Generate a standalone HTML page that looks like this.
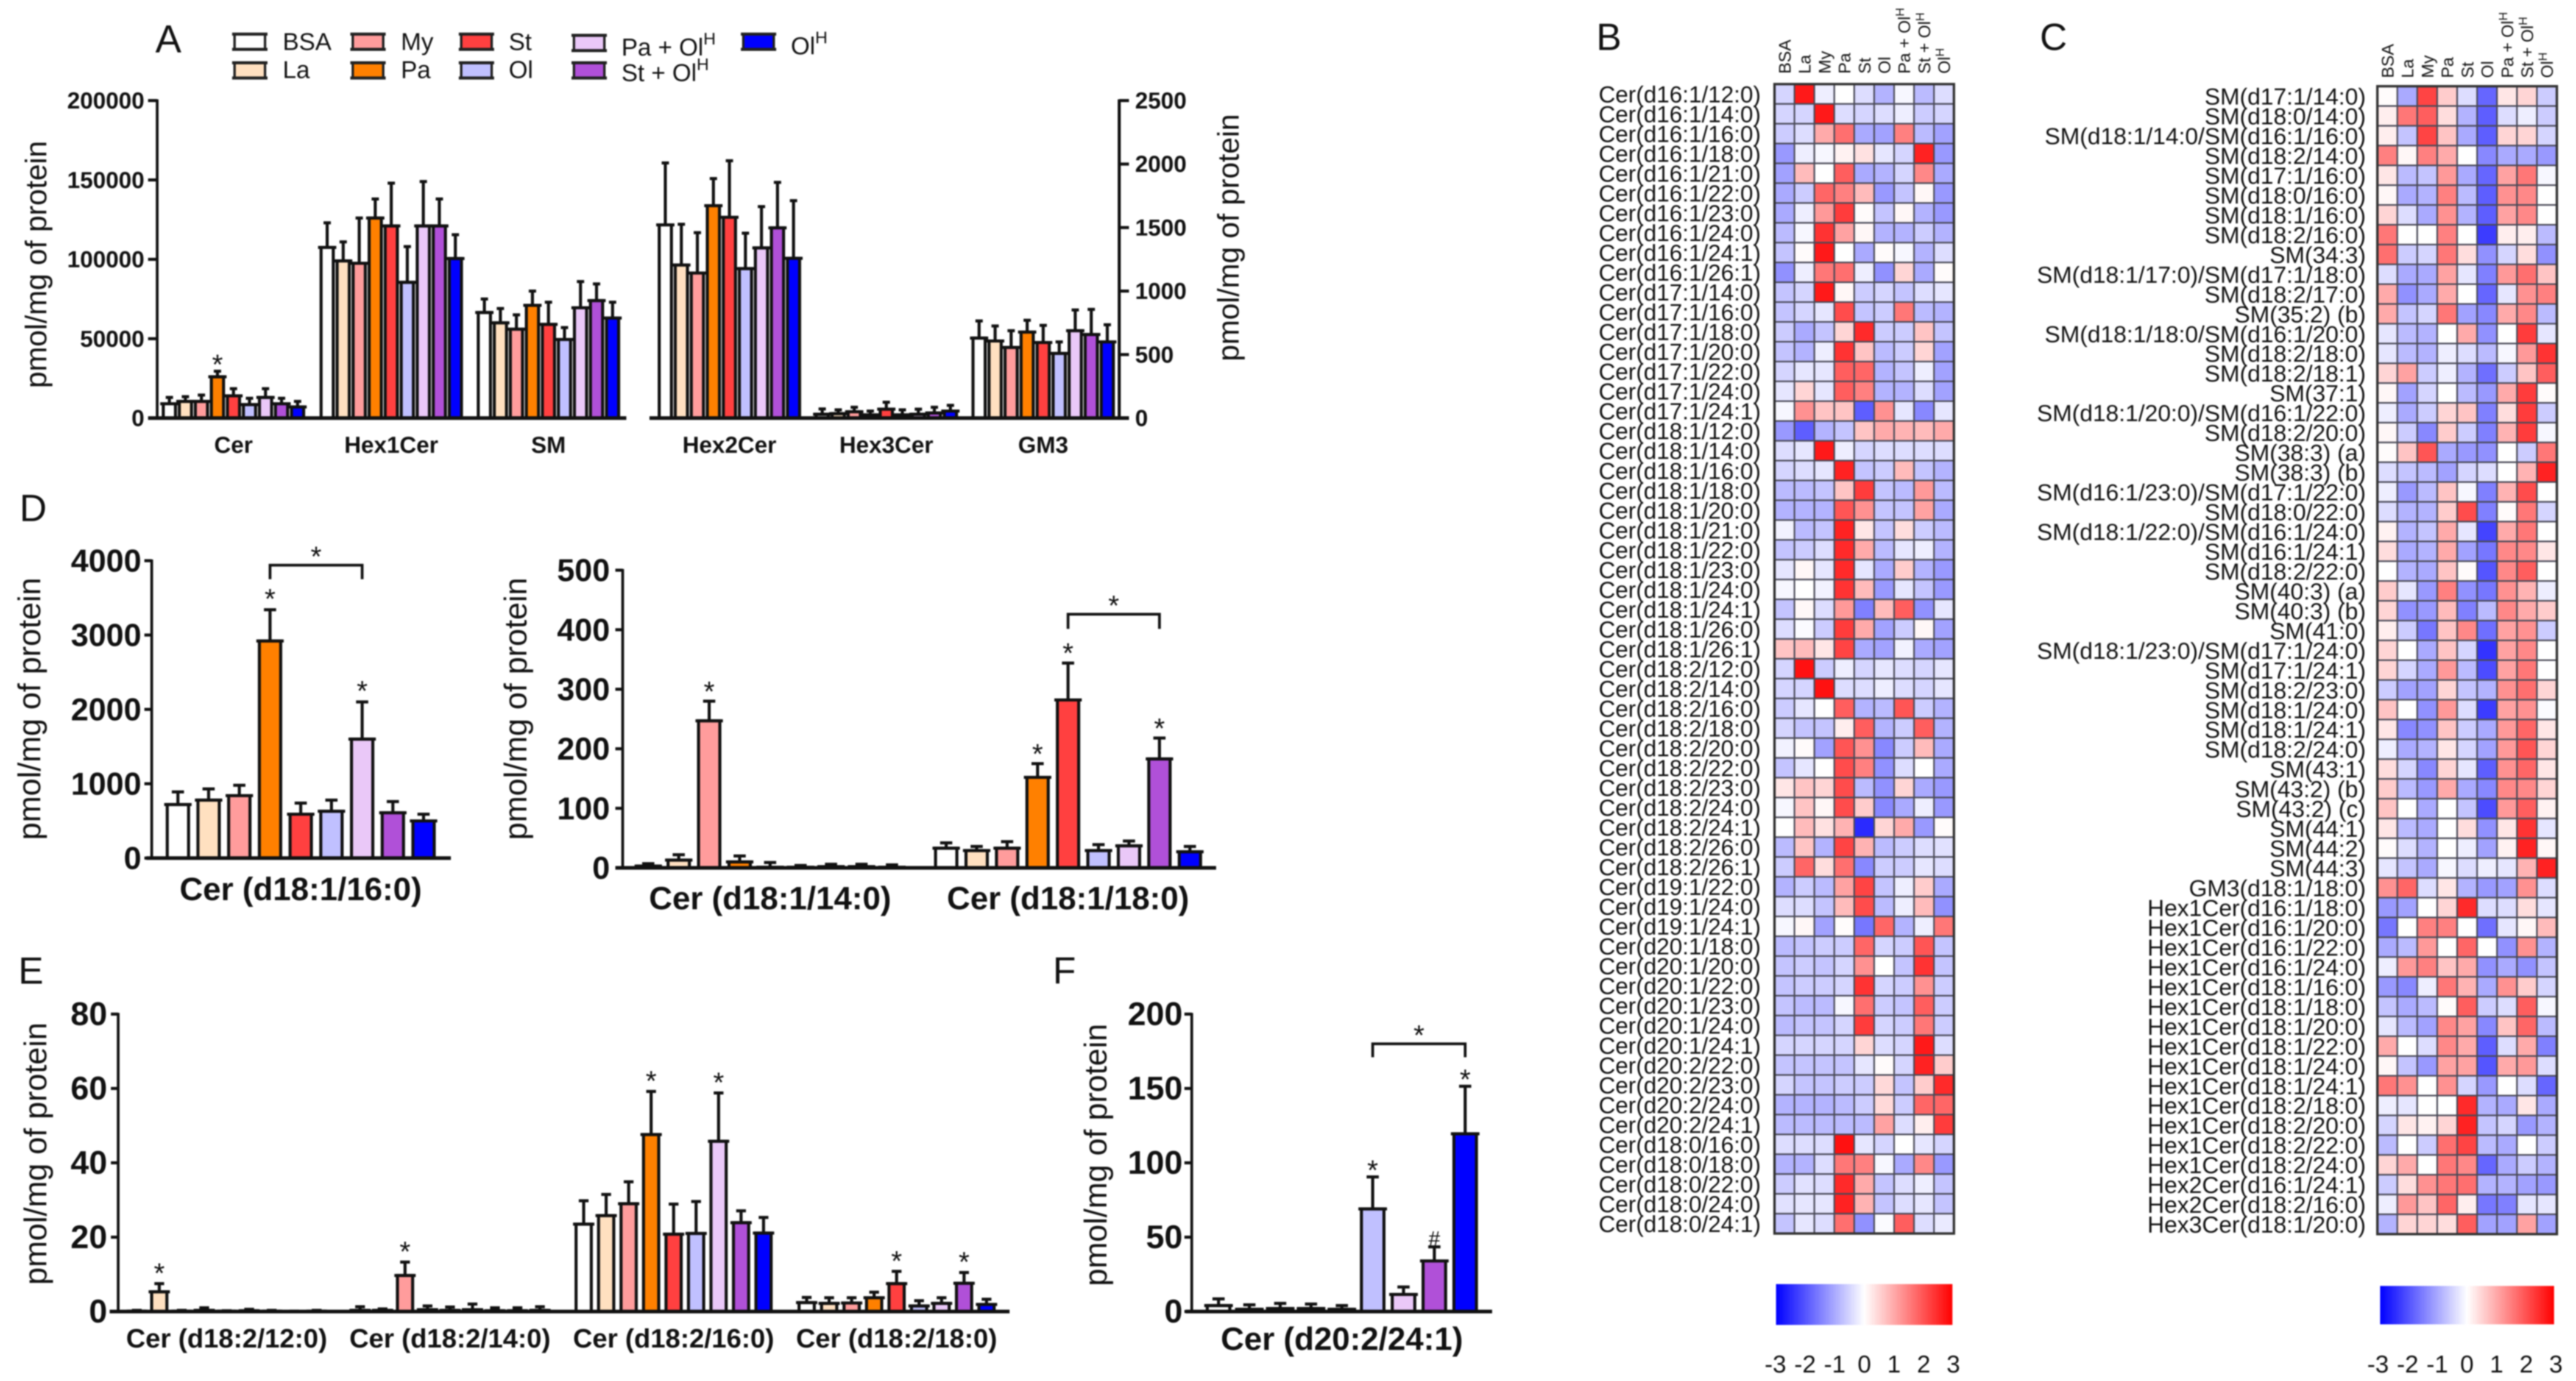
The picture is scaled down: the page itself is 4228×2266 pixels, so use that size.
<!DOCTYPE html>
<html lang="en">
<head>
<meta charset="utf-8">
<title>Sphingolipid profiles after fatty acid treatment</title>
<style>
html,body{margin:0;padding:0;background:#fff;}
#figure{display:block;width:4228px;height:2266px;filter:blur(1.1px);font-family:"Liberation Sans",Arial,sans-serif;fill:#111;}
</style>
</head>
<body>
<svg id="figure" xmlns="http://www.w3.org/2000/svg" width="4228" height="2266" viewBox="0 0 4228 2266">
<defs>
<linearGradient id="cbar" x1="0" x2="1" y1="0" y2="0"><stop offset="0" stop-color="#0000ff"/><stop offset="0.5" stop-color="#ffffff"/><stop offset="1" stop-color="#ff0000"/></linearGradient>
</defs>
<rect width="4228" height="2266" fill="#fff"/>

<text x="255" y="86" font-size="64">A</text>
<text x="2620" y="82" font-size="62">B</text>
<text x="3348" y="82" font-size="62">C</text>
<text x="32" y="855" font-size="62">D</text>
<text x="30" y="1614" font-size="62">E</text>
<text x="1728" y="1614" font-size="62">F</text>

<text transform="translate(76,434) rotate(-90)" text-anchor="middle" font-size="49">pmol/mg of protein</text>
<text transform="translate(2033,390) rotate(-90)" text-anchor="middle" font-size="49">pmol/mg of protein</text>
<text transform="translate(66,1163) rotate(-90)" text-anchor="middle" font-size="52">pmol/mg of protein</text>
<text transform="translate(864,1163) rotate(-90)" text-anchor="middle" font-size="52">pmol/mg of protein</text>
<text transform="translate(76,1893) rotate(-90)" text-anchor="middle" font-size="52">pmol/mg of protein</text>
<text transform="translate(1816,1895) rotate(-90)" text-anchor="middle" font-size="52">pmol/mg of protein</text>

<g id="legend" font-size="40">
<g><rect x="385" y="56" width="50" height="25" fill="#ffffff" stroke="#222" stroke-width="4"/><path d="M381 56H439M381 81H439" stroke="#222" stroke-width="5"/><text x="464" y="82">BSA</text></g>
<g><rect x="385" y="103" width="50" height="25" fill="#ffe0c0" stroke="#222" stroke-width="4"/><path d="M381 103H439M381 128H439" stroke="#222" stroke-width="5"/><text x="464" y="128">La</text></g>
<g><rect x="579" y="56" width="50" height="25" fill="#ff9c9c" stroke="#222" stroke-width="4"/><path d="M575 56H633M575 81H633" stroke="#222" stroke-width="5"/><text x="658" y="82">My</text></g>
<g><rect x="579" y="103" width="50" height="25" fill="#ff8000" stroke="#222" stroke-width="4"/><path d="M575 103H633M575 128H633" stroke="#222" stroke-width="5"/><text x="658" y="128">Pa</text></g>
<g><rect x="757" y="56" width="50" height="25" fill="#ff4040" stroke="#222" stroke-width="4"/><path d="M753 56H811M753 81H811" stroke="#222" stroke-width="5"/><text x="835" y="82">St</text></g>
<g><rect x="757" y="103" width="50" height="25" fill="#c0c0ff" stroke="#222" stroke-width="4"/><path d="M753 103H811M753 128H811" stroke="#222" stroke-width="5"/><text x="835" y="128">Ol</text></g>
<g><rect x="942" y="58" width="50" height="25" fill="#eac8f8" stroke="#222" stroke-width="4"/><path d="M938 58H996M938 83H996" stroke="#222" stroke-width="5"/><text x="1020" y="91">Pa + Ol<tspan font-size="28" dy="-18">H</tspan></text></g>
<g><rect x="942" y="103" width="50" height="25" fill="#b050d8" stroke="#222" stroke-width="4"/><path d="M938 103H996M938 128H996" stroke="#222" stroke-width="5"/><text x="1020" y="133">St + Ol<tspan font-size="28" dy="-18">H</tspan></text></g>
<g><rect x="1220" y="56" width="50" height="25" fill="#0000ff" stroke="#222" stroke-width="4"/><path d="M1216 56H1274M1216 81H1274" stroke="#222" stroke-width="5"/><text x="1298" y="89">Ol<tspan font-size="28" dy="-18">H</tspan></text></g>
</g>

<g id="charts"></g>
<g id="heatmaps"></g>
</svg>

<script>
// ---------- shared categories ----------
const treatments = ['BSA','La','My','Pa','St','Ol','Pa + OlH','St + OlH','OlH'];
const treatmentColors = ['#ffffff','#ffe0c0','#ff9c9c','#ff8000','#ff4040','#c0c0ff','#eac8f8','#b050d8','#0000ff'];

// ---------- panel A ----------
const ticksALeft = [0,50000,100000,150000,200000];
const ticksARight = [0,500,1000,1500,2000,2500];
const cerMeans = [9000,10500,10500,26000,14000,8500,13000,9000,7000];
const cerUppers = [13000,13500,14500,29500,18500,12500,18500,12500,10500];
const hex1CerMeans = [107500,99000,97500,126000,121000,85500,121000,121000,100500];
const hex1CerUppers = [123000,111000,126000,138000,148000,108000,149000,138000,115500];
const smMeans = [66500,60000,56000,71000,59000,49500,69500,74000,63000];
const smUppers = [75000,69000,65000,80000,73000,57000,86000,84500,73000];
const hex2CerMeans = [1521,1205,1142,1672,1581,1177,1340,1498,1258];
const hex2CerUppers = [2009,1526,1460,1886,2026,1456,1665,1856,1712];
const hex3CerMeans = [30,35,50,25,70,25,30,40,55];
const hex3CerUppers = [72,65,85,55,125,65,70,85,100];
const gm3Means = [630,607,556,677,595,509,688,658,600];
const gm3Uppers = [765,725,688,770,730,600,851,856,735];
const cerStars = [3];

// ---------- panel D ----------
const ticksDLeft = [0,1000,2000,3000,4000];
const ticksDRight = [0,100,200,300,400,500];
const d16Means = [720,780,840,2920,590,630,1600,610,500];
const d16Uppers = [890,930,980,3340,740,780,2100,760,590];
const d16Stars = [3,6];
const d16BracketValue = 3940;
const d14Means = [3,13,247,10,1,1,2,2,1];
const d14Uppers = [7,22,280,20,9,4,6,6,5];
const d14Stars = [2];
const d18Means = [33,29,33,152,282,29,37,183,27];
const d18Uppers = [42,36,44,175,344,39,45,218,36];
const d18Stars = [3,4,7];
const d18BracketValue = 426;

// ---------- panel E ----------
const ticksE = [0,20,40,60,80];
const e12Means = [0.1,5.3,0.1,0.3,0.1,0.2,0.1,0.05,0.1];
const e12Uppers = [0.3,7.5,0.3,1.0,0.2,0.6,0.3,0.1,0.3];
const e12Stars = [1];
const e14Means = [0.3,0.3,9.7,0.5,0.3,0.5,0.2,0.2,0.3];
const e14Uppers = [1.3,0.7,13.3,1.5,1.2,2.0,1.0,1.0,1.3];
const e14Stars = [2];
const e16Means = [23.5,25.8,29,47.6,20.8,21,45.8,23.9,21.1];
const e16Uppers = [29.8,31.5,34.9,59.2,28.9,29.6,58.8,27.1,25.3];
const e16Stars = [3,6];
const e18Means = [2.4,2.2,2.3,3.7,7.5,1.5,2.2,7.6,1.9];
const e18Uppers = [3.8,3.7,3.7,5.2,10.8,2.9,3.7,10.5,3.3];
const e18Stars = [4,7];

// ---------- panel F ----------
const ticksF = [0,50,100,150,200];
const fMeans = [4,1.5,2,2,1.5,69,11.5,34,119.5];
const fUppers = [8.5,4.5,5.5,5,4,90.5,16.5,43.5,151.5];
const fStars = [5,8];
const fHashes = [7];
const fBracketValue = 180;

// ---------- panel B heatmap ----------
const heatRowsB = ['Cer(d16:1/12:0)','Cer(d16:1/14:0)','Cer(d16:1/16:0)','Cer(d16:1/18:0)','Cer(d16:1/21:0)','Cer(d16:1/22:0)','Cer(d16:1/23:0)','Cer(d16:1/24:0)','Cer(d16:1/24:1)','Cer(d16:1/26:1)','Cer(d17:1/14:0)','Cer(d17:1/16:0)','Cer(d17:1/18:0)','Cer(d17:1/20:0)','Cer(d17:1/22:0)','Cer(d17:1/24:0)','Cer(d17:1/24:1)','Cer(d18:1/12:0)','Cer(d18:1/14:0)','Cer(d18:1/16:0)','Cer(d18:1/18:0)','Cer(d18:1/20:0)','Cer(d18:1/21:0)','Cer(d18:1/22:0)','Cer(d18:1/23:0)','Cer(d18:1/24:0)','Cer(d18:1/24:1)','Cer(d18:1/26:0)','Cer(d18:1/26:1)','Cer(d18:2/12:0)','Cer(d18:2/14:0)','Cer(d18:2/16:0)','Cer(d18:2/18:0)','Cer(d18:2/20:0)','Cer(d18:2/22:0)','Cer(d18:2/23:0)','Cer(d18:2/24:0)','Cer(d18:2/24:1)','Cer(d18:2/26:0)','Cer(d18:2/26:1)','Cer(d19:1/22:0)','Cer(d19:1/24:0)','Cer(d19:1/24:1)','Cer(d20:1/18:0)','Cer(d20:1/20:0)','Cer(d20:1/22:0)','Cer(d20:1/23:0)','Cer(d20:1/24:0)','Cer(d20:1/24:1)','Cer(d20:2/22:0)','Cer(d20:2/23:0)','Cer(d20:2/24:0)','Cer(d20:2/24:1)','Cer(d18:0/16:0)','Cer(d18:0/18:0)','Cer(d18:0/22:0)','Cer(d18:0/24:0)','Cer(d18:0/24:1)'];
const heatValuesB = [
[-0.5,2.7,-0.2,0,-0.4,-0.9,-0.1,-0.8,-0.4],
[-0.5,-0.5,2.7,-0.4,-0.5,-0.4,-0.2,-0.6,-0.5],
[-0.6,-0.4,1.0,1.7,-1.0,-1.1,1.5,-0.8,-1.1],
[-1.2,-0.2,-0.1,0.15,0.35,-0.3,-0.5,2.6,-1.2],
[-1.1,0.8,0,1.9,-1.0,-0.9,-0.5,1.4,-1.0],
[-1.0,-0.6,1.8,1.5,0.8,-1.2,-0.7,0.1,-1.2],
[-1.0,-0.2,1.2,2.3,0.05,-0.7,0.1,-0.9,-1.2],
[-0.8,-0.1,2.4,1.1,0.1,-0.9,-0.9,-0.6,-0.9],
[-0.7,0.05,2.7,0,-1.0,0.05,-0.1,-0.9,-0.4],
[-1.3,-0.2,1.6,1.7,-0.2,-1.3,0.5,-1.0,0.05],
[-0.7,-0.5,2.7,0.1,-0.6,-0.5,-0.7,-0.4,-0.3],
[-0.7,-0.5,-0.3,2.1,-0.7,-0.6,1.6,-0.8,-0.9],
[-0.6,-1.0,-0.7,0.5,2.5,-0.6,-0.6,0.7,-0.7],
[-0.7,-0.9,-0.2,2.4,0.7,-0.8,-0.6,0.5,-1.1],
[-0.5,-0.3,-0.3,1.9,1.8,-0.9,-0.7,-0.2,-1.1],
[-0.3,0.5,-0.3,1.9,1.5,-0.9,-0.9,-0.4,-1.1],
[-0.1,1.3,0.7,0.7,-1.9,1.3,-0.3,-1.4,-0.3],
[-1.2,-1.9,-0.9,-0.7,0.7,1.0,0.9,0.8,1.0],
[-0.4,-0.3,2.7,-0.2,-0.5,-0.4,-0.4,-0.4,-0.4],
[-0.5,-0.4,-0.3,2.6,-0.7,-0.6,0.8,-0.7,-0.9],
[-0.8,-0.8,-0.7,0.7,2.3,-0.7,-0.8,1.2,-0.8],
[-0.9,-0.9,-0.9,2.0,1.3,-0.7,-0.7,1.1,-1.0],
[-0.15,-0.8,-0.7,2.6,0.3,-0.7,0.4,-0.6,-0.8],
[-0.7,-0.6,-0.4,2.5,1.0,-0.8,-0.3,-0.2,-0.9],
[-0.3,0.1,-0.3,2.5,-0.3,-1.0,0.6,-0.9,-1.2],
[-0.1,0,-0.15,2.4,0.8,-1.2,-0.3,-0.7,-1.2],
[-0.7,0.08,-0.4,1.2,-1.5,0.8,1.9,-1.3,-0.3],
[-0.4,-0.05,-0.6,2.3,1.0,-1.1,-0.6,0.1,-1.1],
[0.7,0.8,0.3,2.2,-1.0,-1.1,-0.15,-1.0,-1.1],
[-0.5,2.8,-0.6,-0.2,-0.5,-0.3,-0.4,-0.5,-0.3],
[-0.5,-0.5,2.8,-0.4,-0.4,-0.2,-0.4,-0.5,-0.3],
[-0.6,-0.3,0,1.9,-0.9,-0.8,2.0,-0.6,-0.9],
[-0.5,-0.7,-0.7,0.2,1.9,-0.9,-0.6,1.9,-0.9],
[-0.15,0.05,-1.1,2.0,1.3,-1.4,-0.6,0.8,-1.0],
[-0.7,-0.3,0,2.1,1.5,-1.3,-0.4,0,-1.0],
[0.3,0.7,0.5,2.1,-0.8,-1.3,0.5,-1.0,-1.2],
[-0.1,0.7,0.1,2.1,0.6,-1.4,-1.0,-0.2,-1.2],
[0,0.8,0.35,0.9,-2.5,0.5,1.0,-1.2,0.05],
[-0.8,0.7,-0.9,2.2,0.9,-0.8,-0.6,-0.4,-0.35],
[-0.6,1.8,0.4,1.7,-1.4,-0.6,-0.6,-0.3,-0.4],
[-0.9,-0.6,-0.8,1.1,2.2,-0.7,-0.2,0.6,-1.0],
[-0.4,-0.4,-0.7,0.8,2.1,-0.8,-0.2,0.8,-1.3],
[-0.1,0.1,-1.1,0.03,-1.6,1.8,-0.9,-0.2,1.6],
[-0.8,-0.7,-0.6,-0.6,1.8,-0.5,-0.6,2.0,-0.7],
[-0.7,-0.6,-0.7,-0.5,1.3,0,-0.7,2.4,-0.7],
[-0.7,-0.6,-0.6,-0.5,2.4,-0.5,-0.6,1.3,-0.6],
[-0.7,-0.8,-0.8,-0.1,1.7,-0.6,-0.7,1.9,-0.6],
[-0.8,-0.7,-0.7,-0.5,2.3,-0.5,-0.6,1.6,-0.6],
[-0.5,-0.5,-0.5,-0.5,0.5,-0.4,-0.5,2.7,-0.4],
[-0.7,-0.7,-0.7,-0.7,-0.3,0.05,-0.5,2.6,0.6],
[-0.5,-0.7,-0.7,-0.6,-0.6,0.45,-0.7,0.6,2.5],
[-0.9,-0.9,-0.9,-0.8,-0.6,0.45,-0.6,1.8,1.8],
[-0.8,-0.8,-0.8,-0.8,-0.8,1.1,-0.4,0.2,2.3],
[-0.4,-0.4,-0.4,2.8,-0.3,-0.5,0,-0.3,-0.5],
[-0.9,-0.9,-0.4,1.6,1.5,-0.1,-1.0,1.4,-1.2],
[-0.6,-0.35,-0.4,2.5,1.0,-0.7,-0.4,-0.2,-0.7],
[-0.35,-0.3,-0.3,2.6,0.9,-0.7,-0.4,-0.3,-0.7],
[-0.7,-0.3,-0.4,1.7,-1.3,-0.05,1.9,-0.4,-0.25]
];

// ---------- panel C heatmap ----------
const heatRowsC = ['SM(d17:1/14:0)','SM(d18:0/14:0)','SM(d18:1/14:0/SM(d16:1/16:0)','SM(d18:2/14:0)','SM(d17:1/16:0)','SM(d18:0/16:0)','SM(d18:1/16:0)','SM(d18:2/16:0)','SM(34:3)','SM(d18:1/17:0)/SM(d17:1/18:0)','SM(d18:2/17:0)','SM(35:2) (b)','SM(d18:1/18:0/SM(d16:1/20:0)','SM(d18:2/18:0)','SM(d18:2/18:1)','SM(37:1)','SM(d18:1/20:0)/SM(d16:1/22:0)','SM(d18:2/20:0)','SM(38:3) (a)','SM(38:3) (b)','SM(d16:1/23:0)/SM(d17:1/22:0)','SM(d18:0/22:0)','SM(d18:1/22:0)/SM(d16:1/24:0)','SM(d16:1/24:1)','SM(d18:2/22:0)','SM(40:3) (a)','SM(40:3) (b)','SM(41:0)','SM(d18:1/23:0)/SM(d17:1/24:0)','SM(d17:1/24:1)','SM(d18:2/23:0)','SM(d18:1/24:0)','SM(d18:1/24:1)','SM(d18:2/24:0)','SM(43:1)','SM(43:2) (b)','SM(43:2) (c)','SM(44:1)','SM(44:2)','SM(44:3)','GM3(d18:1/18:0)','Hex1Cer(d16:1/18:0)','Hex1Cer(d16:1/20:0)','Hex1Cer(d16:1/22:0)','Hex1Cer(d16:1/24:0)','Hex1Cer(d18:1/16:0)','Hex1Cer(d18:1/18:0)','Hex1Cer(d18:1/20:0)','Hex1Cer(d18:1/22:0)','Hex1Cer(d18:1/24:0)','Hex1Cer(d18:1/24:1)','Hex1Cer(d18:2/18:0)','Hex1Cer(d18:2/20:0)','Hex1Cer(d18:2/22:0)','Hex1Cer(d18:2/24:0)','Hex2Cer(d16:1/24:1)','Hex2Cer(d18:2/16:0)','Hex3Cer(d18:1/20:0)'];
const heatValuesC = [
[0.03,-1.0,2.2,0.6,-0.4,-1.8,0.3,0.5,-0.6],
[0.2,1.6,1.9,0.4,-0.9,-1.9,-0.4,-0.2,-0.6],
[0.2,-0.7,2.2,0.7,-1.0,-1.9,0.5,0.5,-0.5],
[1.5,0.1,1.5,1.0,0,-1.4,-1.0,-1.0,-1.2],
[0.3,-0.8,-0.7,1.2,-1.0,-1.8,1.1,1.6,-0.1],
[0.1,-1.0,-0.9,1.5,-0.8,-1.9,1.3,1.4,0],
[0.5,-0.4,-1.0,1.3,-0.9,-1.9,1.1,1.4,0],
[1.6,0,0,1.5,0,-2.3,0.2,0.2,-0.8],
[1.7,-0.6,-0.5,1.6,0.4,-1.3,-0.5,0.4,-1.3],
[-0.4,-1.0,-1.0,1.1,-0.3,-1.5,1.2,1.7,0.7],
[1.0,-1.3,-1.0,1.0,0,-1.8,-0.3,1.3,1.5],
[1.0,-0.7,-0.5,1.6,-1.1,-1.4,1.0,1.4,-0.8],
[-0.3,-0.8,-0.9,0,1.0,-1.3,0,2.3,-0.3],
[-0.3,-0.8,-0.9,-0.2,-0.4,-0.8,-0.1,1.2,2.4],
[0.5,1.1,-0.6,-0.2,-0.9,-1.7,-0.6,0.7,1.9],
[0.1,-1.1,-0.5,0,-0.8,-1.2,1.0,2.3,0.05],
[-0.2,-1.0,-0.6,0.5,0.7,-1.5,0.4,2.3,-0.6],
[0.1,-0.6,-1.4,0.6,-0.6,-1.5,0.9,2.3,-0.1],
[0.03,0.7,2.0,-1.0,-1.2,-1.3,0,-0.6,1.6],
[-0.4,-0.7,-0.8,-1.1,-0.5,-0.4,0,0.9,2.6],
[-0.2,-1.2,-0.8,0.7,-0.1,-1.5,0.9,2.1,0],
[-0.4,-0.9,-0.9,0.6,2.1,-1.5,0.05,1.6,-0.5],
[0.15,-0.9,-0.7,1.0,-0.3,-2.2,1.0,1.6,0],
[0.4,-1.0,-0.9,1.0,-1.1,-1.6,1.4,1.4,0.3],
[0,-0.9,-1.0,0.7,0.05,-2.0,1.4,1.9,0],
[0.6,-0.3,-1.2,1.5,-1.3,-1.6,1.3,0.9,-0.2],
[0.5,-1.3,-1.2,0.8,-1.5,-0.8,1.4,1.0,0.6],
[0.2,-0.6,-1.6,0.7,1.4,-1.7,1.1,1.3,-0.6],
[0.5,0,-1.0,0.7,-0.5,-2.4,1.1,1.4,0],
[0.5,-0.5,-1.0,1.2,-0.8,-2.1,1.1,1.6,0],
[-0.6,-1.1,-1.1,0.5,-0.7,-0.9,1.3,1.7,0.5],
[0.7,0,-1.3,1.2,-0.4,-2.3,1.1,1.3,-0.05],
[0.3,-1.4,-1.3,0.7,-0.6,-1.0,1.2,1.8,0.3],
[-0.2,-1.0,-0.9,0.3,-0.5,-1.1,1.2,2.0,0.5],
[0.4,-0.5,-1.4,0.5,-0.3,-1.9,1.3,1.8,0.3],
[0.6,-0.8,-1.2,1.0,-1.0,-1.4,1.4,1.4,0.5],
[0.7,0,-1.0,0,-0.7,-2.1,1.2,1.9,0.15],
[0.3,-0.8,-1.0,0,0.4,-1.3,0.3,2.4,-0.3],
[0.05,-0.4,-0.9,0,-0.2,-1.1,0.15,2.6,0.1],
[-0.3,-0.7,-1.0,-0.1,-0.4,-0.2,-0.3,0.9,2.6],
[1.3,1.8,-0.4,0.3,-0.9,-1.2,-1.1,1.3,-0.4],
[-1.2,-1.1,0,0.5,2.5,-0.4,-0.4,0.4,-0.3],
[-1.6,0,1.5,1.5,0,-1.7,-0.3,0.1,0.8],
[-1.0,-0.8,1.2,0,1.8,0,-1.3,1.3,-0.9],
[-0.2,1.2,1.5,0.7,1.0,-1.3,-1.0,-1.3,-0.7],
[-1.2,-1.4,-0.2,1.6,0.9,-1.0,1.3,0.6,-0.5],
[-0.7,-1.0,-0.8,0.05,1.9,-0.6,-0.4,1.9,-0.1],
[-0.3,-0.8,-1.1,1.4,1.1,-1.4,0.7,1.8,-0.8],
[1.0,0,-0.4,1.4,1.0,-1.9,-0.4,1.0,-1.5],
[0.1,-0.7,-1.2,1.1,1.1,-2.0,1.0,1.2,-0.4],
[1.6,1.3,0,1.3,-0.5,-1.2,0,-0.4,-1.8],
[-0.2,-0.3,0,0,2.5,-0.9,-1.0,0.3,-1.0],
[-0.5,0.3,0.15,0.5,2.6,-0.7,-0.5,-1.2,-0.9],
[-0.8,0,-0.6,1.7,2.2,-0.8,-1.0,0,-0.6],
[0.5,1.0,0,1.6,1.4,-1.8,-1.0,-0.6,-0.9],
[-0.6,0.4,1.3,1.6,1.7,-0.9,-0.9,-1.1,-1.2],
[-0.2,1.2,0.7,1.8,0.2,-1.6,-1.5,-0.3,-0.3],
[-0.9,0.5,0.5,0.4,1.9,-1.1,-1.1,1.1,-1.1]
];
const colorbarTicks = [-3,-2,-1,0,1,2,3];

// ---------- helpers ----------
const NS = 'http://www.w3.org/2000/svg';
const charts = document.getElementById('charts');
const heatmaps = document.getElementById('heatmaps');

function mk(tag, attrs, parent, text) {
  const node = document.createElementNS(NS, tag);
  for (const key in attrs) node.setAttribute(key, attrs[key]);
  if (text !== undefined) node.textContent = text;
  parent.appendChild(node);
  return node;
}
function linear(d0, d1, r0, r1) {
  return function (v) { return r0 + (v - d0) * (r1 - r0) / (d1 - d0); };
}
function slug(s) { return s.toLowerCase().replace(/[^a-z0-9]+/g, '-').replace(/-$/, ''); }

function drawYAxis(parent, name, ticks, y, x, dir, tickLen, gap, fontSize, baseShift) {
  const g = mk('g', {}, parent);
  
  
  const line = mk('line', {x1:x, x2:x, y1:y(ticks[ticks.length-1])-2, y2:y(ticks[0])+2, stroke:'#111', 'stroke-width':dir < 0 ? 4.5 : 5}, g);
  
  
  ticks.forEach(function (t) {
    const tick = mk('line', {x1:x, x2:x + dir*tickLen, y1:y(t), y2:y(t), stroke:'#111', 'stroke-width':5}, g);
    
    
    const label = mk('text', {x:x + dir*(tickLen+gap), y:y(t)+baseShift, 'font-size':fontSize, 'font-weight':'bold', 'text-anchor':dir < 0 ? 'end' : 'start'}, g, String(t));
    
    
  });
}

function drawXAxis(parent, name, x1, x2, y) {
  const line = mk('line', {x1:x1, x2:x2, y1:y, y2:y, stroke:'#111', 'stroke-width':6}, parent);
  
  
}

function drawMarker(parent, name, cx, cy, glyph, size) {
  const t = mk('text', {x:cx, y:cy + size*0.56, 'font-size':size, 'text-anchor':'middle'}, parent, glyph);
  
  
}

function drawBarGroup(parent, c) {
  const g = mk('g', {}, parent);
  
  
  const base = c.y(0);
  const sw = 5;
  c.values.forEach(function (v, i) {
    const cx = c.x0 + i*c.step;
    const top = c.y(v);
    const up = c.y(c.uppers[i]);
    const bar = mk('rect', {x:cx - c.barW/2, y:top, width:c.barW, height:Math.max(0, base - top), fill:treatmentColors[i], stroke:'#111', 'stroke-width':sw}, g);
    
    
    const whisker = mk('path', {d:'M'+cx+' '+top+'V'+up+'M'+(cx-c.capW/2)+' '+up+'H'+(cx+c.capW/2)+'M'+(cx-c.barW/2-5)+' '+top+'H'+(cx+c.barW/2+5), fill:'none', stroke:'#111', 'stroke-width':sw}, g);
    
    
  });
  (c.stars || []).forEach(function (i) {
    drawMarker(g, 'significance-star', c.x0 + i*c.step, c.y(c.uppers[i]) - c.starGap, '*', 46);
  });
  (c.hashes || []).forEach(function (i) {
    drawMarker(g, 'significance-hash', c.x0 + i*c.step, c.y(c.uppers[i]) - c.starGap, '#', 34);
  });
  const label = mk('text', {x:c.x0 + 4*c.step, y:c.labelY, 'font-size':c.labelSize, 'font-weight':'bold', 'text-anchor':'middle'}, g, c.label);
  
  
}

function drawBracket(parent, name, x1, x2, yTop, legLen) {
  const g = mk('g', {}, parent);
  
  
  const p = mk('path', {d:'M'+x1+' '+(yTop+legLen)+'V'+yTop+'H'+x2+'V'+(yTop+legLen), fill:'none', stroke:'#111', 'stroke-width':4.5}, g);
  
  
  drawMarker(g, 'significance-star', (x1+x2)/2, yTop - 24, '*', 46);
}

// ---------- bar panels ----------
(function () {
  const a = mk('g', {}, charts);
  
  
  const yAL = linear(0, 200000, 686, 165);
  const yAR = linear(0, 2500, 686, 165);
  const A = {step:26.3, barW:20, capW:12, starGap:21, labelY:743, labelSize:38};
  drawBarGroup(a, Object.assign({}, A, {label:'Cer', x0:278, y:yAL, values:cerMeans, uppers:cerUppers, stars:cerStars}));
  drawBarGroup(a, Object.assign({}, A, {label:'Hex1Cer', x0:537, y:yAL, values:hex1CerMeans, uppers:hex1CerUppers}));
  drawBarGroup(a, Object.assign({}, A, {label:'SM', x0:795, y:yAL, values:smMeans, uppers:smUppers}));
  drawBarGroup(a, Object.assign({}, A, {label:'Hex2Cer', x0:1092, y:yAR, values:hex2CerMeans, uppers:hex2CerUppers}));
  drawBarGroup(a, Object.assign({}, A, {label:'Hex3Cer', x0:1349.5, y:yAR, values:hex3CerMeans, uppers:hex3CerUppers}));
  drawBarGroup(a, Object.assign({}, A, {label:'GM3', x0:1607, y:yAR, values:gm3Means, uppers:gm3Uppers}));
  drawXAxis(a, 'x-axis-left', 243, 1028, 686);
  drawXAxis(a, 'x-axis-right', 1066, 1853, 686);
  drawYAxis(a, 'y-axis-left', ticksALeft, yAL, 258, -1, 15, 6, 38, 13);
  drawYAxis(a, 'y-axis-right', ticksARight, yAR, 1837, 1, 16, 10, 38, 13);

  const d1 = mk('g', {}, charts);
  
  
  const yD1 = linear(0, 4000, 1408, 920);
  drawBarGroup(d1, {label:'Cer (d18:1/16:0)', x0:292, step:50.4, barW:35, capW:20, starGap:28, labelY:1477, labelSize:53, y:yD1, values:d16Means, uppers:d16Uppers, stars:d16Stars});
  drawBracket(d1, 'bracket-pa-vs-pa-ol-h', 292 + 3*50.4, 292 + 6*50.4, yD1(d16BracketValue), 23);
  drawXAxis(d1, 'x-axis', 240, 740, 1408);
  drawYAxis(d1, 'y-axis', ticksDLeft, yD1, 249, -1, 12, 5, 52, 18);

  const d2 = mk('g', {}, charts);
  
  
  const yD2 = linear(0, 500, 1424, 935.6);
  drawBarGroup(d2, {label:'Cer (d18:1/14:0)', x0:1064, step:50, barW:35, capW:20, starGap:26, labelY:1492, labelSize:53, y:yD2, values:d14Means, uppers:d14Uppers, stars:d14Stars});
  drawBarGroup(d2, {label:'Cer (d18:1/18:0)', x0:1553, step:50, barW:35, capW:20, starGap:26, labelY:1492, labelSize:53, y:yD2, values:d18Means, uppers:d18Uppers, stars:d18Stars});
  drawBracket(d2, 'bracket-st-vs-st-ol-h', 1553 + 4*50, 1553 + 7*50, yD2(d18BracketValue), 24);
  drawXAxis(d2, 'x-axis', 1010, 1996, 1424);
  drawYAxis(d2, 'y-axis', ticksDRight, yD2, 1022, -1, 12, 9, 52, 18);

  const e = mk('g', {}, charts);
  
  
  const yE = linear(0, 80, 2152, 1664);
  const E = {step:36.9, barW:25, capW:16, starGap:27, labelY:2211, labelSize:44, y:yE};
  drawBarGroup(e, Object.assign({}, E, {label:'Cer (d18:2/12:0)', x0:224.5, values:e12Means, uppers:e12Uppers, stars:e12Stars}));
  drawBarGroup(e, Object.assign({}, E, {label:'Cer (d18:2/14:0)', x0:591, values:e14Means, uppers:e14Uppers, stars:e14Stars}));
  drawBarGroup(e, Object.assign({}, E, {label:'Cer (d18:2/16:0)', x0:958, values:e16Means, uppers:e16Uppers, stars:e16Stars}));
  drawBarGroup(e, Object.assign({}, E, {label:'Cer (d18:2/18:0)', x0:1324, values:e18Means, uppers:e18Uppers, stars:e18Stars}));
  drawXAxis(e, 'x-axis', 180, 1657, 2152);
  drawYAxis(e, 'y-axis', ticksE, yE, 194, -1, 12, 6, 54, 18);

  const f = mk('g', {}, charts);
  
  
  const yF = linear(0, 200, 2152, 1664);
  drawBarGroup(f, {label:'Cer (d20:2/24:1)', x0:2000, step:50.6, barW:37, capW:20, starGap:21, labelY:2215, labelSize:53, y:yF, values:fMeans, uppers:fUppers, stars:fStars, hashes:fHashes});
  drawBracket(f, 'bracket-ol-vs-ol-h', 2000 + 5*50.6, 2000 + 8*50.6, yF(fBracketValue), 22);
  drawXAxis(f, 'x-axis', 1946, 2449, 2152);
  drawYAxis(f, 'y-axis', ticksF, yF, 1956, -1, 12, 3, 54, 18);
})();

// ---------- heatmaps ----------
function heatColor(v) {
  const t = Math.min(1, Math.abs(v) / 3);
  const c = Math.round(255 * (1 - t));
  return v >= 0 ? 'rgb(255,' + c + ',' + c + ')' : 'rgb(' + c + ',' + c + ',255)';
}

function drawHeatmap(c) {
  const g = mk('g', {}, heatmaps);
  
  
  const cellW = (c.right - c.left) / treatments.length;
  const cellH = (c.bottom - c.top) / c.rows.length;
  c.values.forEach(function (row, r) {
    row.forEach(function (v, k) {
      const cell = mk('rect', {x:c.left + k*cellW, y:c.top + r*cellH, width:cellW, height:cellH, fill:heatColor(v), stroke:'#4a4a58', 'stroke-width':2.5}, g);
      
      
    });
    const label = mk('text', {x:c.labelRight, y:c.top + (r+0.5)*cellH + c.labelSize*0.36, 'font-size':c.labelSize, 'text-anchor':'end'}, g, c.rows[r]);
    
    
  });
  const frame = mk('rect', {x:c.left, y:c.top, width:c.right-c.left, height:c.bottom-c.top, fill:'none', stroke:'#333', 'stroke-width':4}, g);
  
  
  treatments.forEach(function (name, k) {
    const cx = c.left + (k+0.5)*cellW;
    const hasSup = name.slice(-3) === 'OlH';
    const head = mk('text', {transform:'translate(' + (cx+10) + ',' + c.headerBottom + ') rotate(-90)', 'font-size':c.headerSize}, g, hasSup ? name.slice(0,-1) : name);
    
    
    if (hasSup) {
      const sup = mk('tspan', {dy:-10, 'font-size':c.headerSize*0.7}, head, 'H');
      
      
    }
  });
  const bar = mk('rect', {x:c.barLeft, y:c.barTop, width:c.barRight-c.barLeft, height:c.barBottom-c.barTop, fill:'url(#cbar)'}, g);
  
  
  const cx = linear(-3, 3, c.tickLeft, c.tickRight);
  colorbarTicks.forEach(function (t) {
    const label = mk('text', {x:cx(t), y:2252, 'font-size':40, 'text-anchor':'middle'}, g, String(t));
    
    
  });
}

drawHeatmap({name:'heatmap-b', rows:heatRowsB, values:heatValuesB, left:2912.5, right:3207, top:138, bottom:2024, labelRight:2890, labelSize:38, headerBottom:121, headerSize:28, barLeft:2915, barRight:3204.5, barTop:2107, barBottom:2174, tickLeft:2914, tickRight:3206});
drawHeatmap({name:'heatmap-c', rows:heatRowsC, values:heatValuesC, left:3902, right:4196.6, top:141.5, bottom:2025, labelRight:3883, labelSize:38.4, headerBottom:128, headerSize:28, barLeft:3906.5, barRight:4192, barTop:2110, barBottom:2173, tickLeft:3903, tickRight:4195});
</script>
</body>
</html>
